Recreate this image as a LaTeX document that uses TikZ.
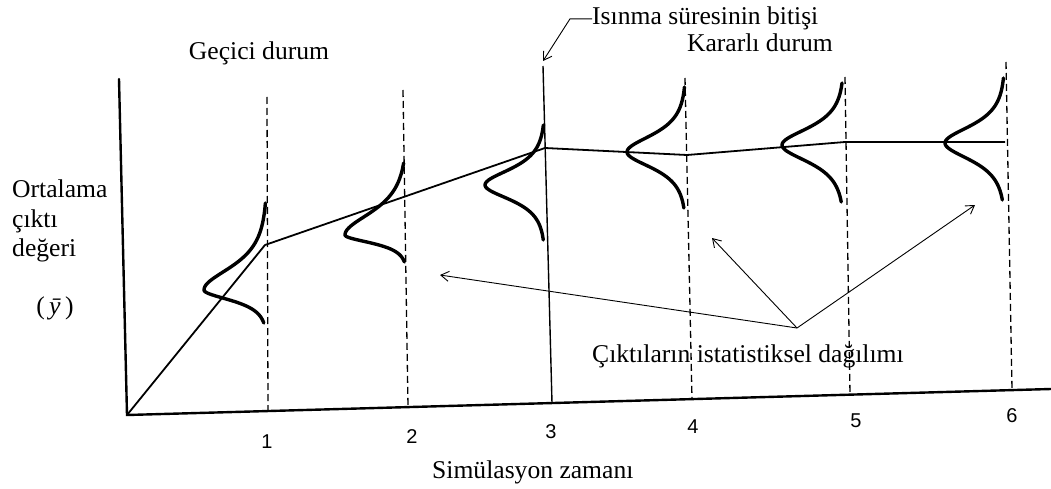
\documentclass[tikz,border=0pt]{standalone}
\usepackage{fontspec}
\setmainfont{Liberation Serif}
\newfontfamily\numfont{Liberation Sans}
\usetikzlibrary{arrows.meta}
\newcommand{\mydist}[7]{%
  \draw[distc] plot[domain=#6:0,samples=50,variable=\t] ({#1-#3/cosh(\t/#4)},{#2+\t})
    -- plot[domain=0:#7,samples=50,variable=\t] ({#1-#3/cosh(\t/#5)},{#2+\t});}
\begin{document}
\begin{tikzpicture}[x=1pt,y=-1pt,
  axisline/.style={line width=2.4pt,line cap=round},
  meanline/.style={line width=1.8pt,line join=round},
  distc/.style={line width=3.4pt,line cap=round,line join=round},
  guide/.style={line width=1.3pt,dash pattern=on 7pt off 4pt},
  warm/.style={line width=1.4pt},
  arr/.style={line width=0.9pt,-{Straight Barb[length=8pt,width=10pt]}},
  lbl/.style={inner sep=0pt,font=\fontsize{25.6}{30}\selectfont},
  num/.style={inner sep=0pt,font=\numfont\fontsize{20}{24}\selectfont,anchor=base}]
\useasboundingbox (0,0) rectangle (1051,489);
% axes
\coordinate (O) at (127,415);
\coordinate (ytop) at (119,79);
\coordinate (xend) at (1051,389);
% guide tops and feet
\coordinate (g1t) at (267,97);   \coordinate (g1b) at (268,411);
\coordinate (g2t) at (403,90);   \coordinate (g2b) at (408,407);
\coordinate (w3t) at (543,66);   \coordinate (w3b) at (552,403);
\coordinate (g4t) at (685,78);   \coordinate (g4b) at (692,399);
\coordinate (g5t) at (845,77);   \coordinate (g5b) at (850,395);
\coordinate (g6t) at (1006,62);  \coordinate (g6b) at (1012,390);
\draw[guide] (g1t) -- (g1b);
\draw[guide] (g2t) -- (g2b);
\draw[guide] (g4t) -- (g4b);
\draw[guide] (g5t) -- (g5b);
\draw[guide] (g6t) -- (g6b);
\draw[warm] (w3t) -- (w3b);
\draw[axisline] (ytop) -- (O) -- (xend);
% mean output line
\coordinate (m1) at (265,245);
\coordinate (m2) at (545,148);
\coordinate (m3) at (687,155);
\coordinate (m4) at (845,142);
\coordinate (m5) at (1005,142);
\draw[meanline] (O) -- (m1) -- (m2) -- (m3) -- (m4) -- (m5);
% distributions
\mydist{267}{290}{63}{20}{9}{-87}{33}
\mydist{407}{235}{62}{20}{7}{-72}{27}
\mydist{545}{185}{60}{14}{13}{-60}{55}
\mydist{686}{152}{59}{15}{14}{-65}{56}
\mydist{844}{145}{62}{15}{15}{-62}{57}
\mydist{1005}{143}{60}{15}{15}{-65}{57}
% labels
\node[lbl,anchor=base] (gecici) at (259,60) {Geçici durum};
\node[lbl,anchor=base west] (isinma) at (592,25) {Isınma süresinin bitişi};
\node[lbl,anchor=base east] (kararli) at (833,52) {Kararlı durum};
\node[lbl,anchor=base west] (ort1) at (12,197) {Ortalama};
\node[lbl,anchor=base west] (ort2) at (12,227) {çıktı};
\node[lbl,anchor=base west] (ort3) at (12,256) {değeri};
\node[lbl,anchor=base] (ybar) at (55,314) {(\,\textit{ȳ}\,)};
\node[lbl,anchor=base west] (dagilim) at (592,362) {Çıktıların istatistiksel dağılımı};
\node[lbl,anchor=base west] (zaman) at (432,478) {Simülasyon zamanı};
\node[num] (n1) at (267,448) {1};
\node[num] (n2) at (412,443) {2};
\node[num] (n3) at (551,438) {3};
\node[num] (n4) at (693,433) {4};
\node[num] (n5) at (856,427) {5};
\node[num] (n6) at (1012,422) {6};
% arrows
\coordinate (wtip) at (543,61);
\draw[arr] (isinma.west) -- ++(-22,0) -- (wtip);
\coordinate (apex) at (797,328);
\coordinate (tipA) at (440,275);
\coordinate (tipB) at (712,238);
\coordinate (tipC) at (975,205);
\draw[arr] (apex) -- (tipA);
\draw[arr] (apex) -- (tipB);
\draw[arr] (apex) -- (tipC);
\end{tikzpicture}
\end{document}
